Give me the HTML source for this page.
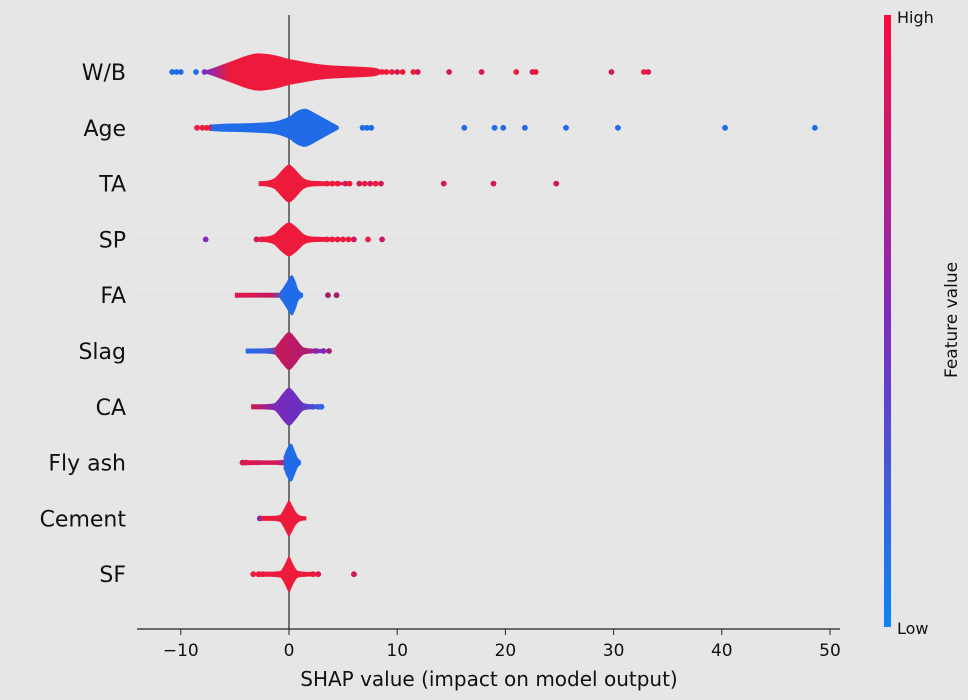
<!DOCTYPE html>
<html><head><meta charset="utf-8"><style>
html,body{margin:0;padding:0;background:#e6e6e6;}
svg{display:block;font-family:"DejaVu Sans","Liberation Sans",sans-serif;}
</style></head><body>
<svg id="chart" width="968" height="700" viewBox="0 0 968 700">
<rect x="0" y="0" width="968" height="700" fill="#e6e6e6"/>
<defs>
<linearGradient id="cbar" x1="0" y1="0" x2="0" y2="1">
<stop offset="0" stop-color="#ff0a3c"/><stop offset="0.5" stop-color="#7d2bc0"/><stop offset="1" stop-color="#0a85f5"/>
</linearGradient>
</defs>
<g id="grid"></g>
<line x1="289" y1="15" x2="289" y2="629" stroke="#555" stroke-width="1.6"/>
<g id="marks"></g>
<g id="ylabels"></g>
<line x1="137" y1="629" x2="840" y2="629" stroke="#222" stroke-width="1.2"/>
<g id="xticks"></g>
<text x="489" y="686" font-size="20" text-anchor="middle" fill="#111">SHAP value (impact on model output)</text>
<rect x="884" y="15" width="7" height="612" fill="url(#cbar)"/>
<text x="897" y="23" font-size="16" fill="#111">High</text>
<text x="897" y="634" font-size="16" fill="#111">Low</text>
<text transform="translate(957,320) rotate(-90)" font-size="17" text-anchor="middle" fill="#111">Feature value</text>
</svg>
<script>
const features = ["W/B","Age","TA","SP","FA","Slag","CA","Fly ash","Cement","SF"];
const xTicks = [-10,0,10,20,30,40,50];
// violin profiles: value positions and density (half-width units)
const violinX = [
 [-7.6,-7,-6,-5,-4,-3,-2,-1,0,1,2,3,4,5,6,7,8,8.5],
 [-7.4,-6,-4,-2,-1,0,0.5,1,1.5,2,2.5,3,3.5,4,4.6],
 [-2.8,-2,-1.4,-1,-0.5,0,0.5,1,1.4,2,3,4,5],
 [-2.8,-2,-1.4,-1,-0.5,0,0.5,1,1.4,2,3,4,5],
 [-5,-1.2,-0.8,-0.4,0,0.3,0.6,0.9,1.3],
 [-4,-1.6,-1.1,-0.6,0,0.6,1.1,1.6,3.2],
 [-3.5,-1.6,-1.1,-0.6,0,0.6,1.1,1.6,3.2],
 [-4.2,-0.8,-0.5,-0.2,0.2,0.5,0.8,1.1],
 [-2.6,-1,-0.6,-0.3,0,0.3,0.6,1,1.6],
 [-3,-1,-0.6,-0.3,0,0.3,0.6,1,2.7]
];
const violinD = [
 [2,4,8,12,16,18.5,18,16,13,11,9,7.5,6.5,6,5.5,5,4,2],
 [3,4,4.5,5.5,7,11,15,18,19,17,14,11,8,5,1.5],
 [2.5,3,5,9,15,19,15,9,5,3,2.5,2,1.5],
 [2.5,3,5,9,14,17,14,9,5,3,2.5,2,1.5],
 [2.5,2.5,4,10,17,20,14,5,2],
 [2.5,3,6,13,19,13,6,3,2],
 [2.5,3,6,13,19,13,6,3,2],
 [2.5,2.5,6,14,19,13,5,2],
 [2.5,3,7,13,18,13,7,3,2],
 [2.5,3,6,12,18,12,6,3,2]
];
// colour stops along the violin (value, colour)
const colorAt = [
 [[-7.6,"#7d2bc0"],[-5.5,"#ee1a3c"],[8.5,"#ee1a3c"]],
 [[-7.4,"#c8185a"],[-7,"#1f6be8"],[4.6,"#1f6be8"]],
 [[-2.8,"#ee1a3c"],[5,"#ee1a3c"]],
 [[-2.8,"#ee1a3c"],[5,"#ee1a3c"]],
 [[-5,"#e8174a"],[-1.5,"#c01a60"],[-0.6,"#1f6be8"],[1.3,"#1f6be8"]],
 [[-4,"#2a68e6"],[-1.8,"#3a5ee0"],[-1,"#c8185a"],[1.5,"#b01c6e"],[3.2,"#7d2bc0"]],
 [[-3.5,"#d01850"],[-1.2,"#7a2bbb"],[1,"#6a2ec0"],[3.2,"#2f66e6"]],
 [[-4.2,"#e0174c"],[-0.8,"#d0185a"],[-0.3,"#1f6be8"],[1.1,"#1f6be8"]],
 [[-2.6,"#ee1a3c"],[1.6,"#ee1a3c"]],
 [[-3,"#ee1a3c"],[2.7,"#ee1a3c"]]
];
const dotsX = [
 [-10.8,-10.4,-10,-8.6,-7.8,8.6,9,9.5,10,10.5,11.5,11.9,14.8,17.8,21,22.5,22.8,29.8,32.8,33.2],
 [-8.5,-8,-7.6,6.8,7.2,7.6,16.2,19,19.8,21.8,25.6,30.4,40.3,48.6],
 [3.5,4,4.5,5.2,5.6,6.5,7,7.5,8,8.5,14.3,18.9,24.7],
 [-7.7,-3,-2.5,3.5,4,4.5,5,5.5,6,7.3,8.6],
 [3.6,4.4],
 [2.5,3.2,3.7],
 [2.2,2.7,3],
 [-4.3,-4],
 [-2.7],
 [-3.3,-2.8,-2.4,2.2,2.7,6]
];
const dotsC = [
 ["#1f6be8","#1f6be8","#1f6be8","#1f6be8","#7d2bc0","#ee1a3c","#ee1a3c","#ee1a3c","#d0185a","#ee1a3c","#ee1a3c","#d0185a","#d0185a","#d0185a","#ee1a3c","#d0185a","#ee1a3c","#d0185a","#ee1a3c","#d0185a"],
 ["#ee1a3c","#ee1a3c","#ee1a3c","#1f6be8","#1f6be8","#1f6be8","#1f6be8","#1f6be8","#1f6be8","#1f6be8","#1f6be8","#1f6be8","#1f6be8","#1f6be8"],
 ["#ee1a3c","#ee1a3c","#ee1a3c","#d0185a","#ee1a3c","#d0185a","#ee1a3c","#d0185a","#ee1a3c","#d0185a","#d0185a","#d0185a","#d0185a"],
 ["#7d2bc0","#d0185a","#ee1a3c","#ee1a3c","#ee1a3c","#d0185a","#ee1a3c","#ee1a3c","#d0185a","#ee1a3c","#d0185a"],
 ["#a0206a","#a0206a"],
 ["#7d2bc0","#7d2bc0","#a0206a"],
 ["#2f66e6","#2f66e6","#2f66e6"],
 ["#d0185a","#d0185a"],
 ["#7d2bc0"],
 ["#ee1a3c","#d0185a","#ee1a3c","#ee1a3c","#d0185a","#d0185a"]
];
const NS="http://www.w3.org/2000/svg";
const x0=289, pxPerUnit=10.82, rowTop=72, rowStep=55.8;
function xs(v){return x0+v*pxPerUnit;}
function ys(i){return rowTop+i*rowStep;}
function mk(tag,attrs,parent){const e=document.createElementNS(NS,tag);for(const k in attrs)e.setAttribute(k,attrs[k]);parent.appendChild(e);return e;}
const grid=document.getElementById('grid'),marks=document.getElementById('marks'),yl=document.getElementById('ylabels'),xt=document.getElementById('xticks');
const defs=document.querySelector('defs');
function catmull(pts){
 let d='';
 for(let k=0;k<pts.length-1;k++){
  const p0=pts[Math.max(0,k-1)],p1=pts[k],p2=pts[k+1],p3=pts[Math.min(pts.length-1,k+2)];
  const c1=[p1[0]+(p2[0]-p0[0])/6,p1[1]+(p2[1]-p0[1])/6];
  const c2=[p2[0]-(p3[0]-p1[0])/6,p2[1]-(p3[1]-p1[1])/6];
  d+=' C'+c1[0]+','+c1[1]+' '+c2[0]+','+c2[1]+' '+p2[0]+','+p2[1];
 }
 return d;
}
features.forEach((f,i)=>{
 const y=ys(i);
 const g=mk('line',{x1:137,x2:840,y1:y,y2:y,stroke:"#d2d2d2","stroke-width":1,"stroke-dasharray":"1 3"},grid);
 
 
 const t=mk('text',{x:126,y:y+8,"font-size":22,"text-anchor":"end",fill:"#111"},yl);
 t.textContent=f;
 
 
 const gid='vg'+i;
 const a=violinX[i][0],b=violinX[i][violinX[i].length-1];
 const lg=mk('linearGradient',{id:gid,gradientUnits:"userSpaceOnUse",x1:xs(a),x2:xs(b),y1:0,y2:0},defs);
 colorAt[i].forEach(s=>mk('stop',{offset:Math.max(0,Math.min(1,(s[0]-a)/(b-a))),"stop-color":s[1]},lg));
 dotsX[i].forEach((v,j)=>{
  const c=mk('circle',{cx:xs(v),cy:y,r:2.9,fill:dotsC[i][j]},marks);
  
  
 });
 const vx=violinX[i],vd=violinD[i];
 const top=vx.map((v,k)=>[xs(v),y-vd[k]]), bot=vx.map((v,k)=>[xs(v),y+vd[k]]).reverse();
 const d='M'+xs(vx[0])+','+y+' L'+top[0][0]+','+top[0][1]+catmull(top)+' L'+xs(vx[vx.length-1])+','+y+' L'+bot[0][0]+','+bot[0][1]+catmull(bot)+' Z';
 const p=mk('path',{d:d,fill:'url(#'+gid+')'},marks);
 
 
});
xTicks.forEach((v,k)=>{
 const l=mk('line',{x1:xs(v),x2:xs(v),y1:629,y2:635,stroke:"#222","stroke-width":1},xt);
 
 
 const t=mk('text',{x:xs(v),y:656,"font-size":17,"text-anchor":"middle",fill:"#111"},xt);
 t.textContent=(v<0?'\u2212'+Math.abs(v):String(v));
 
 
});
</script>
</body></html>
